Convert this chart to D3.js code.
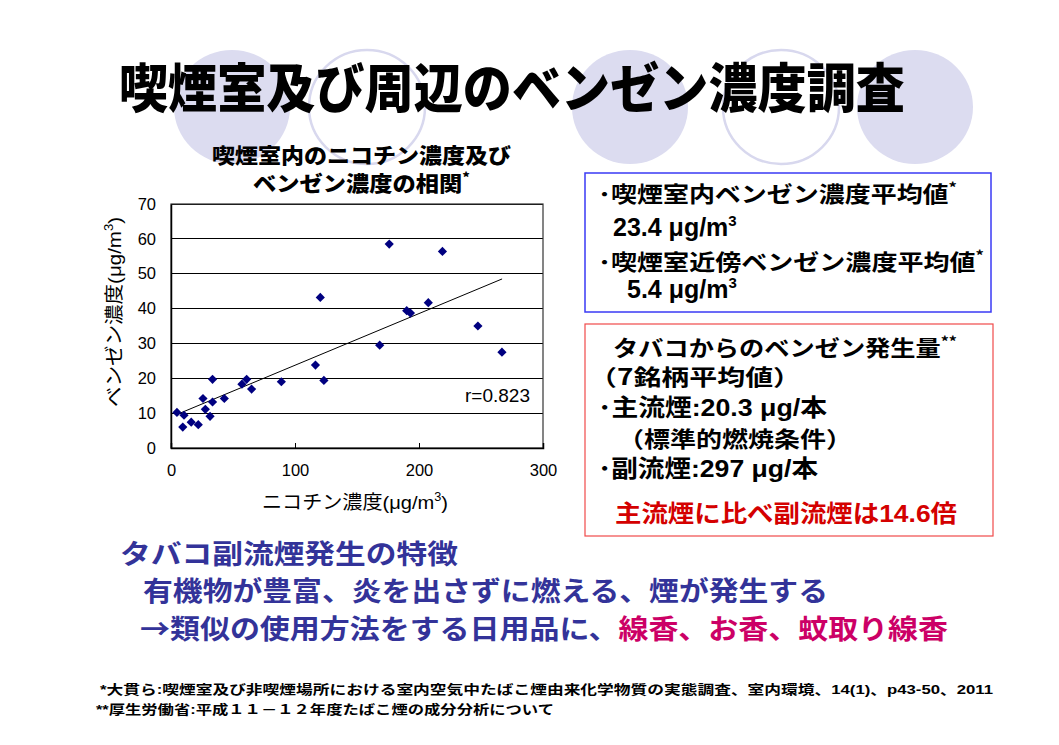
<!DOCTYPE html>
<html><head><meta charset="utf-8">
<script src="https://cdn.jsdelivr.net/npm/d3@7/dist/d3.min.js"></script>
<style>
html,body{margin:0;padding:0;background:#fff;}
svg{display:block;}
</style></head>
<body>
<script>
// ---- data ----
const nicotine = [4.8,10.5,9.5,16.3,22,25.8,27.7,31.5,33.5,33.5,43,57.2,61,65,89,116.5,120.4,123.3,168.3,176,190.1,193.1,207.5,218.9,247.5,266.9];
const benzene  = [10.2,9.4,6.0,7.4,6.7,14.2,11.1,9.1,13.2,19.7,14.2,18.3,19.7,16.9,19.0,23.8,43.2,19.4,29.5,58.5,39.4,38.7,41.7,56.4,35.0,27.5];
const trendX = [8, 267];
const trendY = [10.1, 48.5];
const xTicks = [0,100,200,300];
const yTicks = [0,10,20,30,40,50,60,70];
const rLabel = "r=0.823";

const W = 1059, H = 745;
const svg = d3.select("body").append("svg").attr("width", W).attr("height", H);
svg.append("rect").attr("width", W).attr("height", H).attr("fill", "#fff");

const JP = "'Noto Sans CJK JP', sans-serif";
const LAT = "'Liberation Sans', Arial, 'Noto Sans CJK JP', sans-serif";

// decorative circles
const circles = [
  {cx:232, filled:true},{cx:367, filled:false},{cx:630, filled:true},{cx:781, filled:false},{cx:915, filled:true}
];
svg.selectAll("ellipse.deco").data(circles).join("ellipse")
  .attr("class","deco")
  .attr("cx", d=>d.cx).attr("cy", 107).attr("rx", 58).attr("ry", 57)
  .attr("fill", d=>d.filled ? "#dcdcf0" : "#fff")
  .attr("stroke", d=>d.filled ? "none" : "#d8d8ee")
  .attr("stroke-width", 2.5);

// helper to write text with parts
function txt(x, y, parts, o) {
  const t = svg.append("text").attr("x", x).attr("y", y)
    .attr("font-family", o.family || JP)
    .attr("font-size", o.size)
    .attr("font-weight", o.weight || 700)
    .attr("fill", o.fill || "#000")
    .attr("text-anchor", o.anchor || "start");
  if (o.len) t.attr("textLength", o.len).attr("lengthAdjust", "spacingAndGlyphs");
  parts.forEach(p => {
    if (typeof p === "string") { t.append("tspan").text(p); return; }
    const s = t.append("tspan").text(p.t);
    if (p.fill) s.attr("fill", p.fill);
    if (p.family) s.attr("font-family", p.family);
    if (p.sup) s.attr("font-size", p.size || o.size*0.6).attr("dy", p.dy || -o.size*0.38);
    if (p.after) s.attr("dy", p.after);
  });
  return t;
}

// main title
txt(119, 108, ["喫煙室及び周辺のベンゼン濃度調査"], {size:53, weight:900, len:786});

// chart title
txt(212, 163, ["喫煙室内のニコチン濃度及び"], {size:21, weight:900, len:299});
txt(253, 191, ["ベンゼン濃度の相関", {t:"*", sup:true, size:13, dy:-9}], {size:21, weight:900, len:217});

// ---- scatter ----
const x = d3.scaleLinear().domain([0,300]).range([171,543]);
const y = d3.scaleLinear().domain([0,70]).range([448,204]);

const g = svg.append("g");
g.selectAll("line.grid").data(yTicks.filter(v=>v>0)).join("line")
  .attr("x1", x(0)).attr("x2", x(300)).attr("y1", d=>y(d)).attr("y2", d=>y(d))
  .attr("stroke", "#000").attr("stroke-width", 1).attr("shape-rendering","crispEdges");
g.append("rect").attr("x", x(0)).attr("y", y(70)).attr("width", x(300)-x(0)).attr("height", y(0)-y(70))
  .attr("fill","none").attr("stroke","#333").attr("stroke-width",1.2);

const xAxis = d3.axisBottom(x).tickValues(xTicks).tickSize(-5).tickPadding(23);
const gx = g.append("g").attr("transform", `translate(0,${y(0)})`).call(xAxis);
gx.select(".domain").attr("stroke","#000").attr("stroke-width",1.5);
gx.selectAll(".tick line").attr("stroke","#000");
gx.selectAll("text").attr("font-family", LAT).attr("font-size", 16.5).attr("fill","#000").attr("dy","0.32em");

const yAxis = d3.axisLeft(y).tickValues(yTicks).tickSize(0).tickPadding(15);
const gy = g.append("g").attr("transform", `translate(${x(0)},0)`).call(yAxis);
gy.select(".domain").attr("stroke","#000").attr("stroke-width",1.5);
gy.selectAll("text").attr("font-family", LAT).attr("font-size", 16.5).attr("fill","#000");

g.append("line").attr("x1", x(trendX[0])).attr("y1", y(trendY[0]))
  .attr("x2", x(trendX[1])).attr("y2", y(trendY[1]))
  .attr("stroke","#000").attr("stroke-width",1);

const pts = nicotine.map((v,i)=>({x:v, y:benzene[i]}));
g.selectAll("path.pt").data(pts).join("path")
  .attr("class","pt")
  .attr("d", "M0,-4.6L4.6,0L0,4.6L-4.6,0Z")
  .attr("transform", d=>`translate(${x(d.x)},${y(d.y)})`)
  .attr("fill", "#000080");

svg.append("text").attr("x", 530).attr("y", 402).attr("text-anchor","end")
  .attr("font-family", LAT).attr("font-size", 19).attr("fill","#000").text(rLabel);

// axis titles
txt(355, 509, ["ニコチン濃度(μg/m", {t:"3", sup:true, size:12, dy:-8}, {t:")", after:8}], {size:19, weight:400, family:LAT, anchor:"middle", len:186});
const yt = txt(0, 0, ["ベンゼン濃度(μg/m", {t:"3", sup:true, size:12, dy:-8}, {t:")", after:8}], {size:19, weight:400, family:LAT, anchor:"middle", len:190});
yt.attr("transform", "translate(121,312) rotate(-90)");

// ---- blue box ----
svg.append("rect").attr("x",585).attr("y",173).attr("width",406).attr("height",139)
  .attr("fill","none").attr("stroke","#3a3af5").attr("stroke-width",1.5);
txt(598, 202, ["･喫煙室内ベンゼン濃度平均値", {t:"*", sup:true, size:14, dy:-9}], {size:22, len:359});
txt(613, 236, ["23.4 μg/m", {t:"3", sup:true, size:15, dy:-10}], {size:25, family:LAT, weight:700});
txt(598, 270, ["･喫煙室近傍ベンゼン濃度平均値", {t:"*", sup:true, size:14, dy:-9}], {size:22, len:386});
txt(627, 298, ["5.4 μg/m", {t:"3", sup:true, size:15, dy:-10}], {size:25, family:LAT, weight:700});

// ---- red box ----
svg.append("rect").attr("x",585).attr("y",324).attr("width",408).attr("height",212)
  .attr("fill","none").attr("stroke","#f04a4a").attr("stroke-width",1.2);
txt(613, 356, ["タバコからのベンゼン発生量", {t:"**", sup:true, size:14, dy:-9}], {size:22, len:344});
txt(589, 385, ["（7銘柄平均値）"], {size:22, len:212});
txt(598, 416, ["･主流煙:20.3 μg/本"], {size:24, family:LAT, weight:700, len:229});
txt(618, 447, ["（標準的燃焼条件）"], {size:22, len:234});
txt(598, 477, ["･副流煙:297 μg/本"], {size:24, family:LAT, weight:700, len:220});
txt(615, 522, ["主流煙に比べ副流煙は14.6倍"], {size:24, family:LAT, weight:700, fill:"#d40000", len:342});

// ---- bottom text ----
const navy = "#333399", mag = "#cc0066";
txt(120, 564, ["タバコ副流煙発生の特徴"], {size:27, fill:navy, len:338});
txt(143, 601, ["有機物が豊富、炎を出さずに燃える、煙が発生する"], {size:27, fill:navy, len:685});
txt(140, 639, ["→類似の使用方法をする日用品に、", {t:"線香、お香、蚊取り線香", fill:mag}], {size:27, fill:navy, len:808});

// ---- footnotes ----
txt(100, 694, ["*大貫ら:喫煙室及び非喫煙場所における室内空気中たばこ煙由来化学物質の実態調査、室内環境、14(1)、p43-50、2011"], {size:13, family:LAT, weight:700, len:893});
txt(96, 714, ["**厚生労働省:平成１１－１２年度たばこ煙の成分分析について"], {size:13, family:LAT, weight:700, len:458});
</script>
</body></html>
